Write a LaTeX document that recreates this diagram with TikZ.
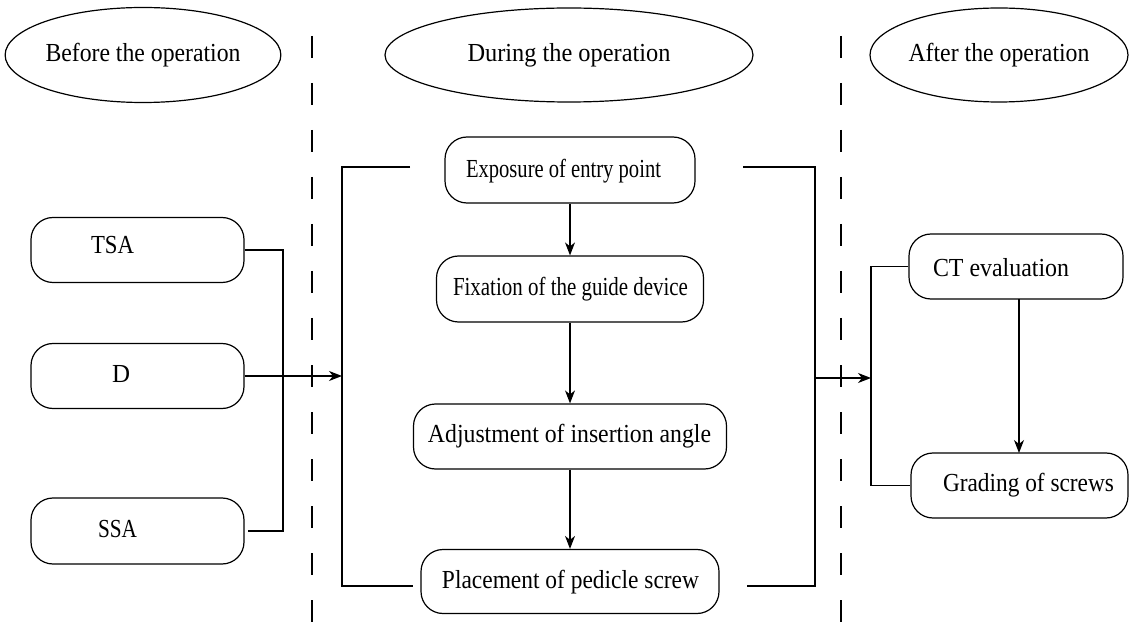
\documentclass[tikz,border=0pt]{standalone}
\usepackage{fontspec}
\setmainfont{Liberation Serif}
\usetikzlibrary{arrows.meta,shapes.geometric}
\newcommand{\fitw}[2]{\resizebox{#1}{\height}{#2}}
\tikzset{
  every picture/.style={line width=1.2pt},
  phase/.style={draw, ellipse, inner sep=0pt, font=\fontsize{26}{30}\selectfont},
  stepbox/.style={draw, rounded corners=22pt, inner sep=0pt},
  lbl/.style={inner sep=0pt, font=\fontsize{26}{30}\selectfont},
  sep/.style={dash pattern=on 22pt off 25pt, line width=1.1pt},
  arr/.style={-{Stealth[length=13pt,width=10pt,inset=4pt]}},
}
\begin{document}
\begin{tikzpicture}[x=1pt,y=-1pt]
\useasboundingbox (0,0) rectangle (1130,628);
% phase ellipses
\node[phase, minimum width=266pt, minimum height=95pt] (before) at (143,55) {\fitw{195pt}{Before the operation}};
\node[phase, minimum width=368pt, minimum height=94pt] (during) at (569,55) {\fitw{203pt}{During the operation}};
\node[phase, minimum width=258pt, minimum height=94pt] (after) at (999,55) {\fitw{181pt}{After the operation}};
% separators
\coordinate (s1t) at (312,36); \coordinate (s1b) at (312,628);
\coordinate (s2t) at (841,36); \coordinate (s2b) at (841,628);
\draw[sep] (s1t) -- (s1b);
\draw[sep] (s2t) -- (s2b);
% left boxes
\node[stepbox, minimum width=213pt, minimum height=65pt] (tsa) at (137.5,250) {};
\node[stepbox, minimum width=213pt, minimum height=65pt] (d) at (137.5,376) {};
\node[stepbox, minimum width=213pt, minimum height=66pt] (ssa) at (137.5,531) {};
\node[lbl] (tsat) at (112.5,245) {\fitw{43pt}{TSA}};
\node[lbl] (dt) at (121,374) {\fitw{18pt}{D}};
\node[lbl] (ssat) at (117.5,529) {\fitw{39pt}{SSA}};
% middle boxes
\node[stepbox, minimum width=250pt, minimum height=66pt] (expo) at (570,170) {};
\node[stepbox, minimum width=267pt, minimum height=66pt] (fix) at (570,289) {};
\node[stepbox, minimum width=313pt, minimum height=65pt] (adj) at (570,436.5) {};
\node[stepbox, minimum width=298pt, minimum height=64pt] (place) at (570,581.5) {};
\node[lbl] (expot) at (563.5,171) {\fitw{195pt}{Exposure of entry point}};
\node[lbl] (fixt) at (570.5,289) {\fitw{235pt}{Fixation of the guide device}};
\node[lbl] (adjt) at (569.5,436) {\fitw{283pt}{Adjustment of insertion angle}};
\node[lbl] (placet) at (570.5,582) {\fitw{257pt}{Placement of pedicle screw}};
% right boxes
\node[stepbox, minimum width=214pt, minimum height=65pt] (ct) at (1016,266.5) {};
\node[stepbox, minimum width=217pt, minimum height=65pt] (grade) at (1019.5,485.5) {};
\node[lbl] (ctt) at (1001,268) {\fitw{136pt}{CT evaluation}};
\node[lbl] (gradet) at (1028.5,485) {\fitw{171pt}{Grading of screws}};
% coordinates for brackets
\coordinate (lb1) at (283,250);
\coordinate (lb2) at (283,531);
\coordinate (ssar) at (248,531);
\coordinate (mlt) at (342,167);
\coordinate (mlb) at (342,586);
\coordinate (mltend) at (410,167);
\coordinate (mlbend) at (413,586);
\coordinate (mrtstart) at (743,167);
\coordinate (mrbstart) at (747,586);
\coordinate (mrt) at (815,167);
\coordinate (mrb) at (815,586);
\coordinate (rl1) at (871,266.5);
\coordinate (rl2) at (871,485.5);
\coordinate (ctb) at (1019,299);
\coordinate (grt) at (1019,453);
% left bracket
\draw (tsa.east) -- (lb1) -- (lb2) -- (ssar);
\draw[arr] (d.east) -- (mlt |- d.east);
% middle bracket
\draw (mltend) -- (mlt) -- (mlb) -- (mlbend);
\draw (mrtstart) -- (mrt) -- (mrb) -- (mrbstart);
\draw[arr] (mrt |- 0,378) -- (rl1 |- 0,378);
% right bracket
\draw (ct.west) -- (rl1) -- (rl2) -- (grade.west);
% middle arrows
\draw[arr] (expo.south) -- (fix.north);
\draw[arr] (fix.south) -- (adj.north);
\draw[arr] (adj.south) -- (place.north);
\draw[arr] (ctb) -- (grt);
\end{tikzpicture}
\end{document}
